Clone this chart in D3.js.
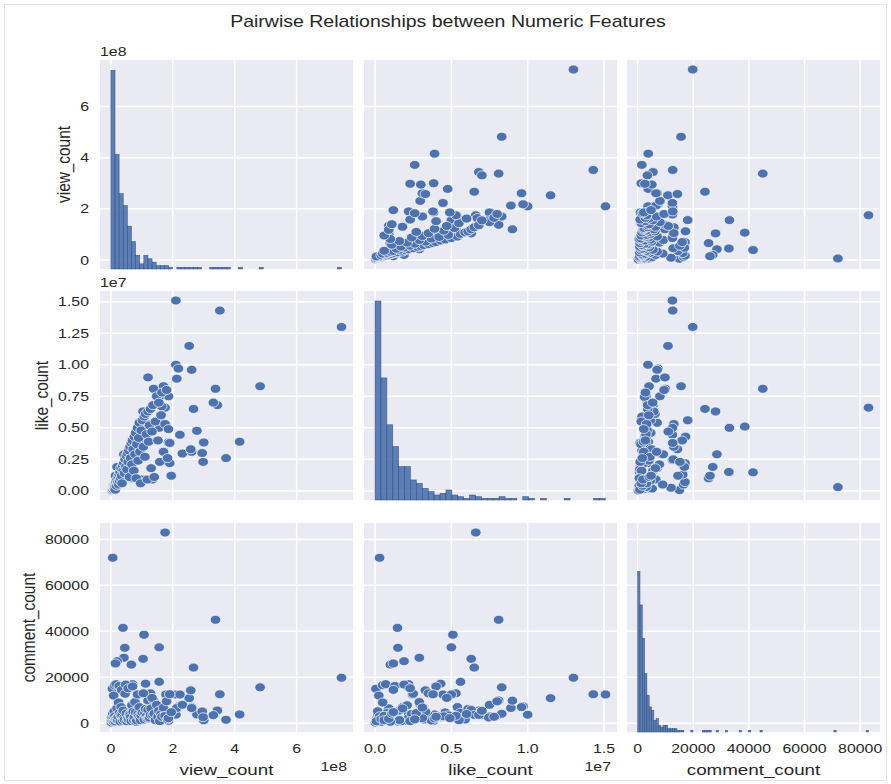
<!DOCTYPE html>
<html>
<head>
<meta charset="utf-8">
<script src="https://cdn.jsdelivr.net/npm/d3@7"></script>
<style>
  body { margin: 0; background: #fff; }
  svg text { font-family: "Liberation Sans", Arial, sans-serif; fill: #262626; }
</style>
</head>
<body>
<svg id="chart" width="891" height="784"></svg>
<script>
// ---- data ----
var title = "Pairwise Relationships between Numeric Features";
var features = ["view_count", "like_count", "comment_count"];

// one entry per video, same order in all three lists
// views in millions, likes in thousands, comments as is
var viewCount = [
  745, 482, 416, 372, 352, 210, 253, 338, 344, 331,
  175, 6, 39, 107, 45, 156, 42, 104, 267, 210,
  218, 261, 213, 120, 138, 170, 186, 155, 164, 20,
  66, 15, 156, 278, 223, 186, 300, 231, 261, 295,
  298, 178, 190, 258, 100, 134, 128, 112, 95, 70,
  60, 2, 3, 4, 5, 6, 7, 8, 9, 10,
  11, 12, 13, 14, 15, 17, 18, 20, 22, 24,
  25, 27, 28, 30, 32, 33, 35, 36, 38, 40,
  42, 44, 46, 48, 50, 52, 54, 56, 58, 60,
  62, 64, 66, 68, 70, 72, 74, 76, 78, 80,
  82, 84, 86, 88, 90, 92, 94, 96, 98, 102,
  105, 108, 110, 112, 115, 118, 120, 122, 125, 128,
  130, 133, 136, 140, 144, 148, 152, 155, 158, 162,
  165, 170, 175, 180, 183, 186, 190, 195
];
var likeCount = [
  13000, 8300, 3900, 2600, 14300, 15100, 11500, 8100, 6800, 7000,
  6600, 300, 1470, 5100, 1500, 5000, 2900, 6300, 6500, 10000,
  9700, 9600, 8900, 9000, 8100, 8300, 7500, 7450, 6700, 1900,
  1000, 1200, 5600, 4760, 4450, 3840, 3840, 2960, 3100, 3000,
  2300, 2450, 2200, 3300, 900, 900, 5300, 4300, 3800, 2200,
  2150, 30, 80, 150, 60, 200, 120, 350, 250, 420,
  180, 500, 300, 90, 560, 700, 400, 900, 650, 1100,
  500, 1300, 800, 1500, 1000, 1800, 1200, 600, 2000, 1600,
  2200, 1400, 2500, 1900, 2800, 1700, 3000, 2300, 3200, 1100,
  3500, 2600, 3800, 2100, 4000, 3300, 1600, 4300, 2900, 4600,
  1000, 3700, 5000, 2400, 4200, 5400, 3100, 600, 4800, 5600,
  3500, 5900, 2700, 6100, 4500, 900, 6300, 3900, 5200, 6500,
  1800, 4700, 6800, 1100, 5500, 7500, 4000, 7000, 2300, 6000,
  7800, 3100, 5300, 8000, 2600, 4900, 3800, 1200
];
var commentCount = [
  19800, 15600, 3800, 1500, 12600, 12500, 10900, 45000, 5500, 3500,
  83000, 72000, 41500, 38500, 32800, 33000, 28500, 28000, 24200, 3700,
  7300, 7000, 6600, 9800, 9900, 4100, 3000, 2500, 4500, 27000,
  25500, 26000, 18000, 3800, 12500, 1000, 1300, 8000, 6600, 5100,
  2600, 12500, 4000, 14300, 2000, 6000, 13000, 17200, 12600, 17000,
  15800, 300, 1200, 2500, 15000, 4000, 900, 2500, 12000, 600,
  5200, 16500, 3000, 800, 1800, 17000, 1800, 6500, 1500, 2800,
  9000, 16200, 4500, 700, 3500, 7000, 14500, 3200, 1100, 5500,
  2300, 1500, 12800, 16800, 4200, 800, 2000, 15200, 1600, 3900,
  3500, 2500, 900, 7800, 16000, 5000, 1400, 2600, 9200, 4700,
  600, 1200, 12500, 4000, 2900, 7000, 2200, 1300, 3400, 4600,
  13000, 1600, 4400, 6200, 3000, 1900, 5800, 2100, 2400, 3600,
  6400, 11000, 3600, 4200, 1300, 8000, 2800, 5400, 900, 4000,
  2800, 6800, 3200, 9500, 1700, 2200, 12600, 4800
];

// histogram bar heights on the diagonal (equal-width bins from 0 to the max value)
var viewHist = [
  116, 67, 44, 37, 25, 16, 8, 3, 8, 6,
  4, 2, 2, 2, 1, 0, 1, 1, 1, 1,
  1, 1, 0, 0, 1, 1, 1, 1, 1, 0,
  0, 1, 0, 0, 0, 0, 1, 0, 0, 0,
  0, 0, 0, 0, 0, 0, 0, 0, 0, 0,
  0, 0, 0, 0, 0, 1
];
var likeHist = [
  119, 73, 45, 32, 20, 20, 12, 10, 7, 5,
  3, 4, 6, 3, 2, 1, 3, 2, 1, 1,
  1, 2, 1, 1, 0, 2, 1, 0, 1, 0,
  0, 0, 1, 0, 0, 0, 0, 1, 1
];
var commentHist = [
  96, 76, 56, 35, 22, 15, 13, 7, 8, 4,
  3, 4, 4, 2, 2, 2, 2, 1, 1, 1,
  0, 0, 0, 1, 0, 0, 0, 0, 1, 1,
  1, 1, 0, 0, 1, 0, 0, 0, 1, 0,
  0, 0, 0, 0, 1, 0, 0, 0, 1, 0,
  0, 0, 0, 1, 0, 0, 0, 0, 0, 0,
  0, 0, 0, 0, 0, 0, 0, 0, 0, 0,
  0, 0, 0, 0, 0, 0, 0, 0, 0, 0,
  0, 0, 0, 0, 0, 1, 0, 0, 0, 0,
  0, 0, 0, 0, 0, 0, 0, 0, 0, 1
];
var histTop = [122, 125, 125]; // y limit of each diagonal panel

// ticks (same units as the lists above)
var viewTicks = [0, 200, 400, 600];
var viewTickLabels = ["0", "2", "4", "6"];
var likeRowTicks = [0, 2500, 5000, 7500, 10000, 12500, 15000];
var likeRowLabels = ["0.00", "0.25", "0.50", "0.75", "1.00", "1.25", "1.50"];
var likeColTicks = [0, 5000, 10000, 15000];
var likeColLabels = ["0.0", "0.5", "1.0", "1.5"];
var commentTicks = [0, 20000, 40000, 60000, 80000];
var commentTickLabels = ["0", "20000", "40000", "60000", "80000"];
var offsetLabels = ["1e8", "1e7", ""];

// ---- layout ----
var svg = d3.select("#chart");
var SX = 1.22;           // the reference text is a bit wider than normal
var colX = [100, 364, 627], rowY = [60, 291, 523];
var W = 253, H = 209;
var blue = "#4C72B0";

function label(g, x, y, s, size, anchor, rotate) {
  return g.append("text")
    .attr("transform", "translate(" + x + "," + y + ") scale(" + SX + ",1)" + (rotate ? " rotate(-90)" : ""))
    .attr("font-size", size)
    .attr("text-anchor", anchor)
    .text(s);
}

function padded(values) {
  var ext = d3.extent(values);
  var pad = (ext[1] - ext[0]) * 0.05;
  return [ext[0] - pad, ext[1] + pad];
}

var vars = [
  { values: viewCount, hist: viewHist, rowTicks: viewTicks, rowLabels: viewTickLabels, colTicks: viewTicks, colLabels: viewTickLabels },
  { values: likeCount, hist: likeHist, rowTicks: likeRowTicks, rowLabels: likeRowLabels, colTicks: likeColTicks, colLabels: likeColLabels },
  { values: commentCount, hist: commentHist, rowTicks: commentTicks, rowLabels: commentTickLabels, colTicks: commentTicks, colLabels: commentTickLabels }
];
vars.forEach(function(v) { v.domain = padded(v.values); });

// faint frame round the figure
svg.append("rect").attr("x", 4.5).attr("y", 4.5).attr("width", 882).attr("height", 776)
  .attr("fill", "none").attr("stroke", "#e4e4e4");

label(svg, 448, 27, title, 16, "middle");

for (var r = 0; r < 3; r++) {
  for (var c = 0; c < 3; c++) {
    var g = svg.append("g").attr("transform", "translate(" + colX[c] + "," + rowY[r] + ")");
    var x = d3.scaleLinear().domain(vars[c].domain).range([0, W]);
    var y = d3.scaleLinear().domain(vars[r].domain).range([H, 0]);

    g.append("rect").attr("width", W).attr("height", H).attr("fill", "#EAEAF2");

    g.selectAll(".vgrid").data(vars[c].colTicks).enter().append("line")
      .attr("x1", function(d) { return x(d); }).attr("x2", function(d) { return x(d); })
      .attr("y1", 0).attr("y2", H)
      .attr("stroke", "#fff").attr("stroke-width", 1.5);
    g.selectAll(".hgrid").data(vars[r].rowTicks).enter().append("line")
      .attr("y1", function(d) { return y(d); }).attr("y2", function(d) { return y(d); })
      .attr("x1", 0).attr("x2", W)
      .attr("stroke", "#fff").attr("stroke-width", 1.5);

    if (r === c) {
      var counts = vars[c].hist;
      var maxVal = d3.max(vars[c].values);
      var bw = maxVal / counts.length;
      var hy = d3.scaleLinear().domain([0, histTop[c]]).range([H, 0]);
      g.selectAll(".bar").data(counts).enter().append("rect")
        .attr("x", function(d, i) { return x(i * bw); })
        .attr("width", function(d, i) { return x((i + 1) * bw) - x(i * bw); })
        .attr("y", function(d) { return hy(d); })
        .attr("height", function(d) { return H - hy(d); })
        .attr("fill", blue).attr("fill-opacity", 0.9)
        .attr("stroke", "#2f4a78").attr("stroke-width", 0.6).attr("stroke-opacity", 0.8);
    } else {
      var xs = vars[c].values, ys = vars[r].values;
      g.selectAll(".dot").data(d3.range(xs.length)).enter().append("ellipse")
        .attr("cx", function(i) { return x(xs[i]); })
        .attr("cy", function(i) { return y(ys[i]); })
        .attr("rx", 5.3).attr("ry", 4.5)
        .attr("fill", blue)
        .attr("stroke", "#fff").attr("stroke-width", 0.7);
    }

    // y tick labels on the left column
    if (c === 0) {
      var widest = 0;
      vars[r].rowTicks.forEach(function(t, i) {
        var tl = label(svg, 89, rowY[r] + y(t) + 4.5, vars[r].rowLabels[i], 13, "end");
        widest = Math.max(widest, tl.node().getComputedTextLength() * SX);
      });
      label(svg, 89 - widest - 10, rowY[r] + H / 2, features[r], 15.4, "middle", true);
      if (offsetLabels[r]) label(svg, colX[0], rowY[r] - 4, offsetLabels[r], 13, "start");
    }
    // x tick labels on the bottom row
    if (r === 2) {
      vars[c].colTicks.forEach(function(t, i) {
        label(svg, colX[c] + x(t), 753, vars[c].colLabels[i], 13, "middle");
      });
      label(svg, colX[c] + W / 2, 775, features[c], 15.4, "middle");
      if (offsetLabels[c]) label(svg, colX[c] + W - 6, 771, offsetLabels[c], 13, "end");
    }
  }
}
</script>
</body>
</html>
